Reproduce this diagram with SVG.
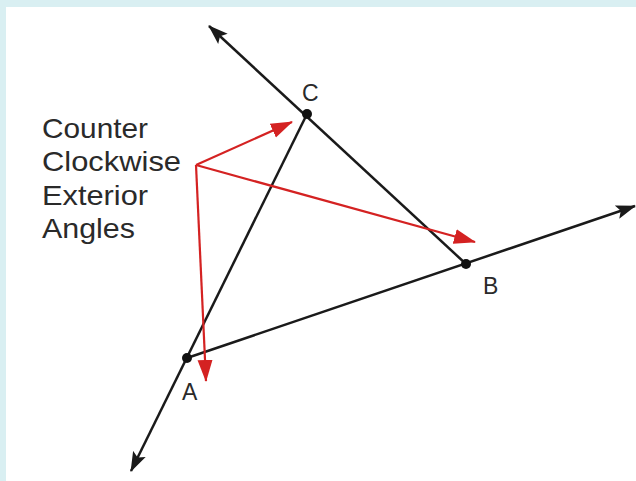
<svg xmlns="http://www.w3.org/2000/svg" width="636" height="481" viewBox="0 0 636 481">
<style>
.ln{stroke:#1a1a1a;stroke-width:2.5;fill:none}
.rd{stroke:#d42222;stroke-width:2.2;fill:none}
.tx{font-family:"Liberation Sans",Arial,sans-serif;fill:#2a2a2a}
</style>
<defs>
<marker id="ab" markerUnits="userSpaceOnUse" markerWidth="20" markerHeight="16" viewBox="0 0 20 16" refX="19" refY="8" orient="auto">
<path d="M0,1 L20,8 L0,15 L4,8 Z" fill="#1a1a1a"/>
</marker>
<marker id="ar" markerUnits="userSpaceOnUse" markerWidth="22" markerHeight="18" viewBox="0 0 22 18" refX="21" refY="9" orient="auto">
<path d="M0,1.5 L22,9 L0,16.5 Z" fill="#d42222"/>
</marker>
</defs>
<rect width="636" height="481" fill="#d9eff2"/>
<rect x="6" y="7" width="630" height="474" fill="#ffffff"/>
<g id="connectors">
<line class="ln" x1="466" y1="264" x2="209" y2="26" marker-end="url(#ab)"/>
<line class="ln" x1="187" y1="358" x2="635" y2="206" marker-end="url(#ab)"/>
<line class="ln" x1="307" y1="114" x2="131" y2="471" marker-end="url(#ab)"/>
<line class="rd" x1="196" y1="165" x2="292" y2="122" marker-end="url(#ar)"/>
<line class="rd" x1="196" y1="165" x2="475" y2="242" marker-end="url(#ar)"/>
<line class="rd" x1="196" y1="165" x2="206" y2="381" marker-end="url(#ar)"/>
</g>
<g id="C"><circle cx="307" cy="114" r="5" fill="#111"/><text class="tx" x="302" y="101" font-size="23">C</text></g>
<g id="B"><circle cx="466" cy="264" r="5" fill="#111"/><text class="tx" x="483" y="294" font-size="23">B</text></g>
<g id="A"><circle cx="187" cy="358" r="5" fill="#111"/><text class="tx" x="182" y="400" font-size="23">A</text></g>
<g id="label" class="tx" font-size="28">
<text x="42" y="138" textLength="106" lengthAdjust="spacingAndGlyphs">Counter</text>
<text x="42" y="171" textLength="139" lengthAdjust="spacingAndGlyphs">Clockwise</text>
<text x="42" y="205" textLength="106" lengthAdjust="spacingAndGlyphs">Exterior</text>
<text x="42" y="238" textLength="93" lengthAdjust="spacingAndGlyphs">Angles</text>
</g>
</svg>
